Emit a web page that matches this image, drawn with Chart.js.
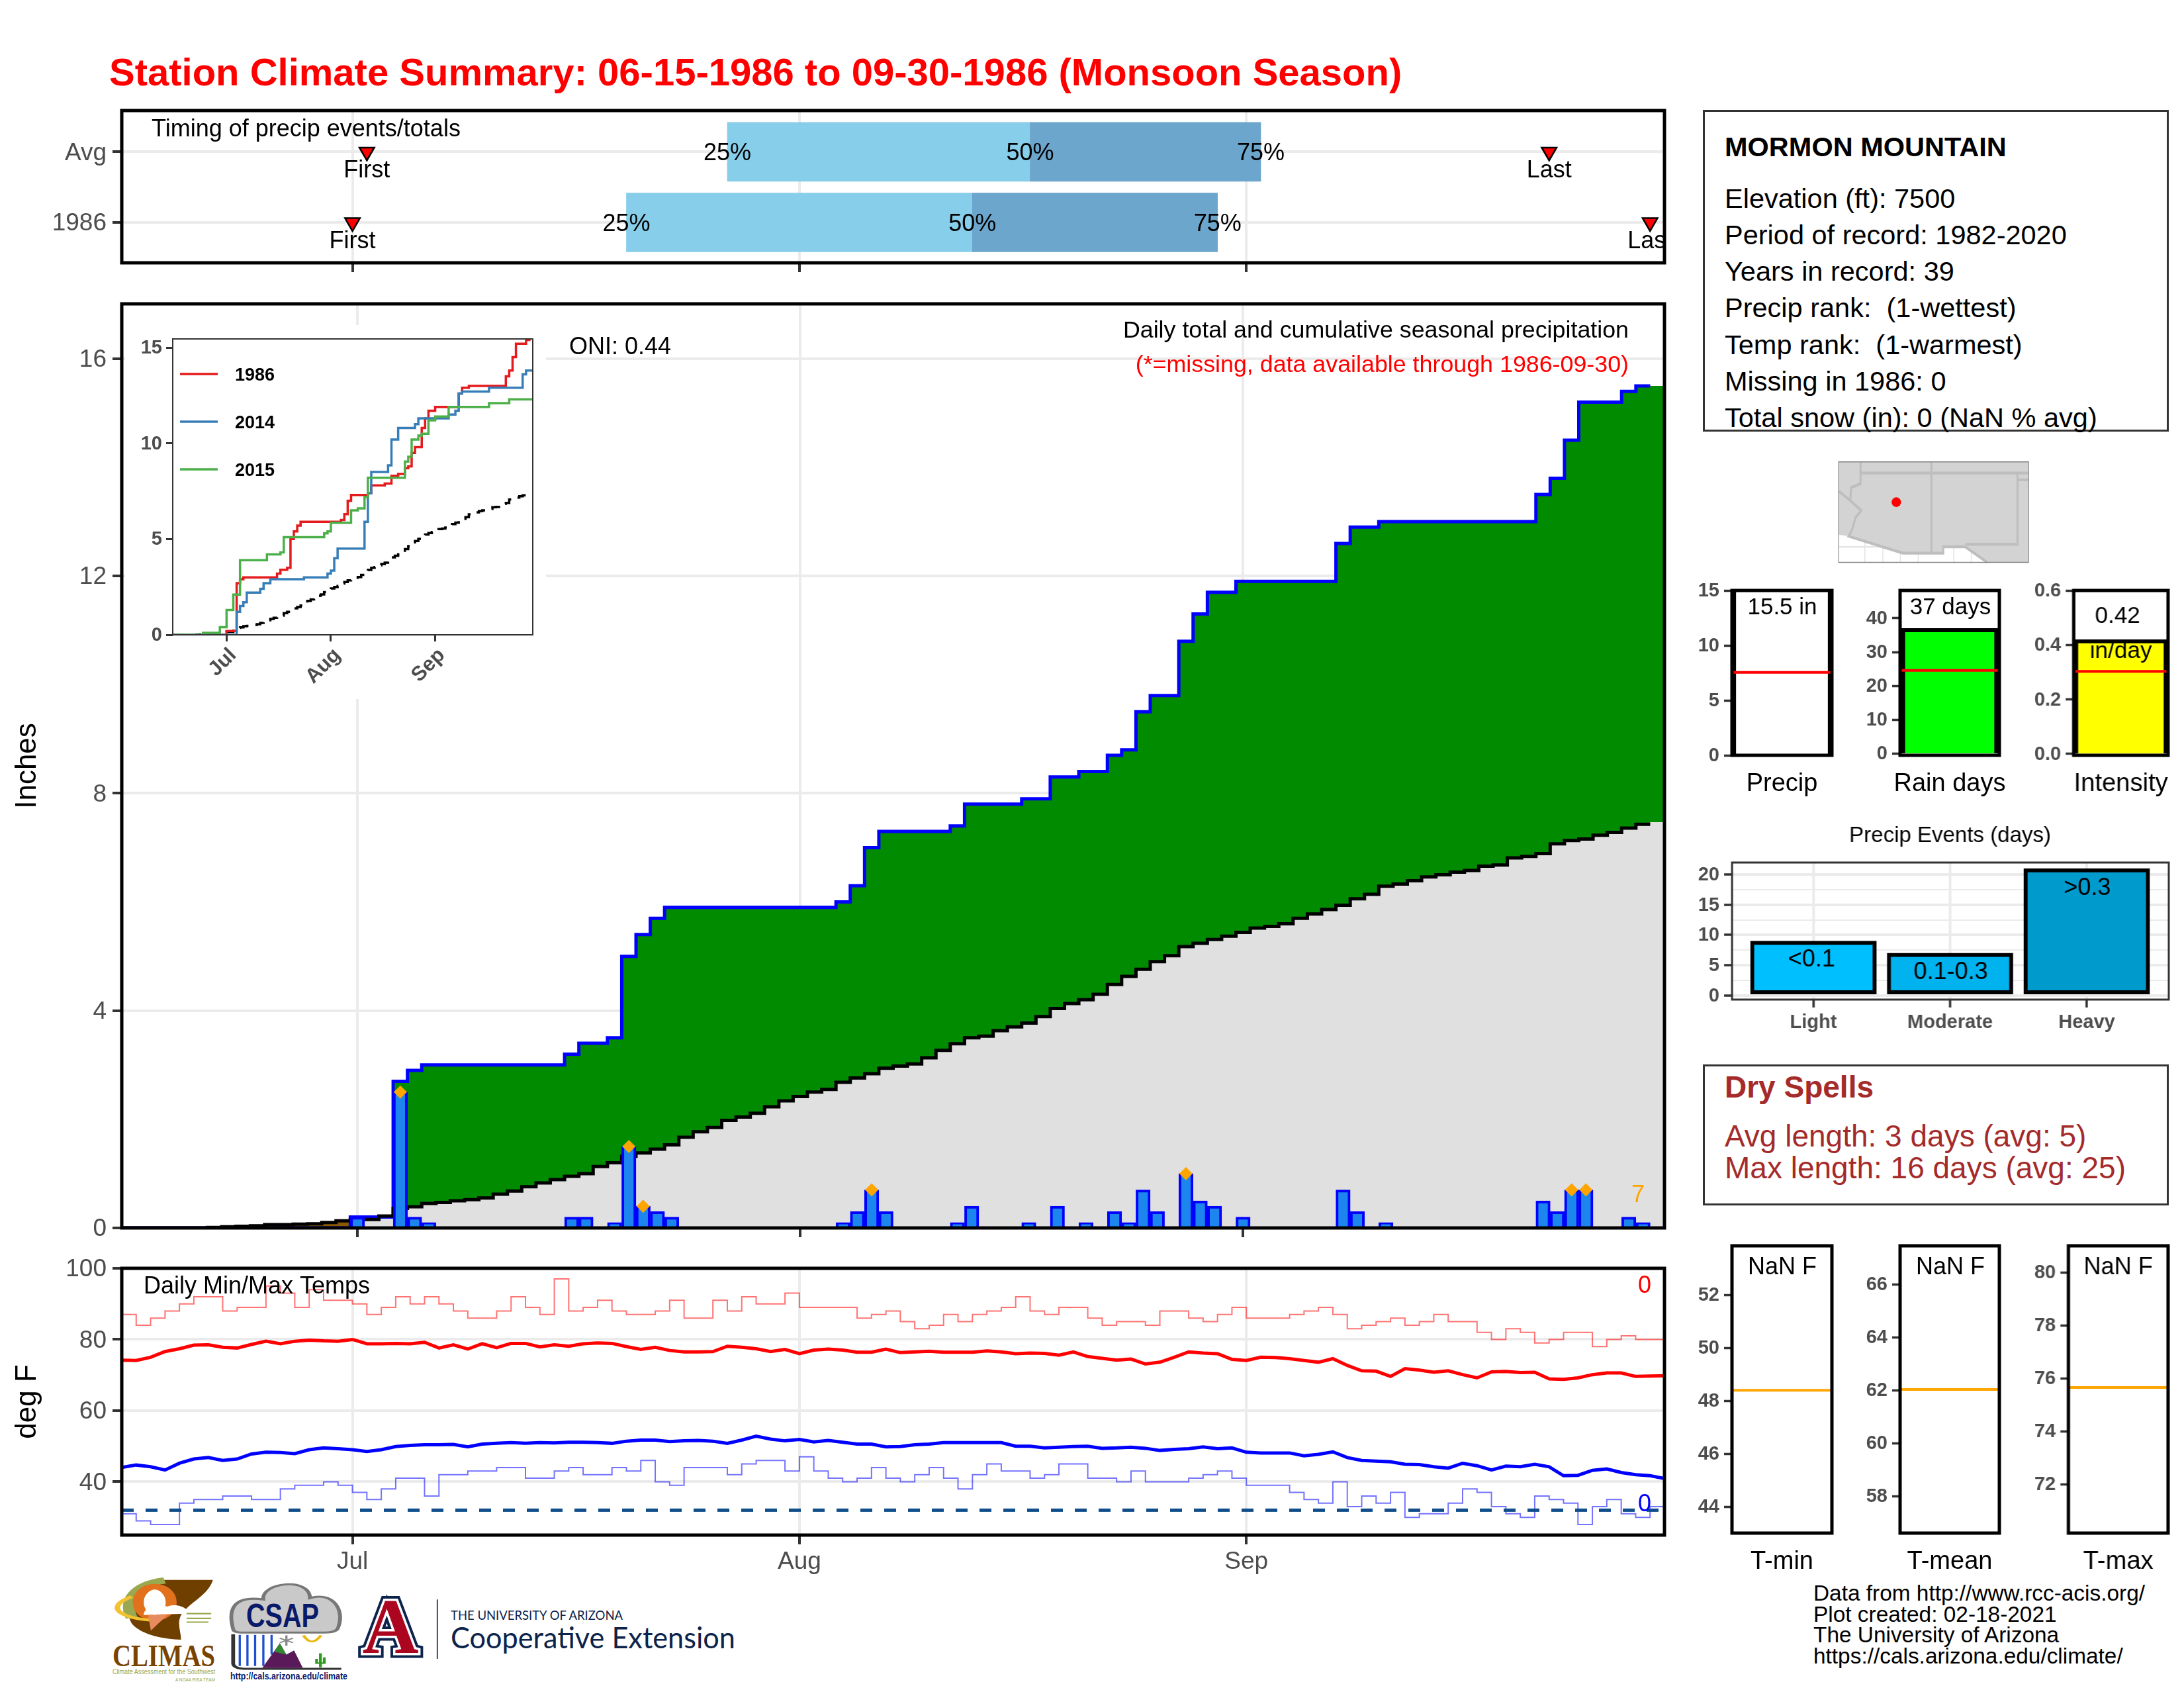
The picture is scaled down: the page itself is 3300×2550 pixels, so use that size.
<!DOCTYPE html>
<html><head><meta charset="utf-8">
<script src="https://cdn.jsdelivr.net/npm/chart.js@4"></script>
<style>
html,body{margin:0;padding:0;background:#fff;width:3300px;height:2550px;overflow:hidden;font-family:"Liberation Sans",Arial,sans-serif}
canvas{position:absolute;display:block}
.t{position:absolute;white-space:pre;line-height:1;transform:translateY(-50%)}
.box{position:absolute;border:3px solid #333;box-sizing:border-box;background:#fff}
svg{position:absolute;left:0;top:0}
</style></head><body>
<div class="box" style="left:2573px;top:166px;width:704px;height:486px"></div>
<div class="box" style="left:2573px;top:1608px;width:704px;height:213px"></div>
<svg id="art" width="3300" height="2550" viewBox="0 0 3300 2550">
  <g transform="matrix(.5102,0,0,.7334,2500,100)">
    <rect x="545" y="815" width="563" height="207" fill="#fff"/>
    <g stroke="#e4e4e4" stroke-width="3"><path d="M623 960V1022M676 960V1022M728 960V1022M781 960V1022M886 960V1022M938 960V1022M545 990H1108"/></g>
    <path d="M545 815H1108V1022H985L920 987L855 990V1003H735L575 968L545 965Z" fill="#d3d3d3"/>
    <path d="M610 815V860L582 868L580 895L612 915L595 930L585 955L575 968L735 1003H855V990H920L985 1022M545 875L580 895M610 838H1075V985H920M820 815V1003M1075 838H1108M1075 852H1108" fill="none" stroke="#bebebe" stroke-width="6"/>
    <rect x="545" y="815" width="563" height="207" fill="none" stroke="#7f7f7f" stroke-width="2"/>
    <ellipse cx="716" cy="898" rx="14" ry="10" fill="#f00"/>
  </g>
  <g transform="matrix(.829,0,0,.4273,0,1880)">
    <path d="M295 1186H388C380 1240 345 1265 330 1310C322 1340 330 1370 330 1397C290 1395 255 1375 240 1340C225 1290 240 1220 295 1186Z" fill="#6f3f00"/>
    <path d="M300 1188C245 1200 225 1260 240 1320" fill="none" stroke="#9aa84f" stroke-width="22"/>
    <ellipse cx="282" cy="1265" rx="30" ry="55" fill="#fff" stroke="#e2711d" stroke-width="20"/>
    <path d="M262 1310C262 1280 290 1270 305 1280C325 1265 345 1290 345 1305Z" fill="#fff"/>
    <path d="M240 1245C190 1280 215 1325 290 1330" fill="none" stroke="#f2c230" stroke-width="10"/>
    <path d="M270 1310L305 1310L275 1365Z" fill="#e88b60"/>
    <path d="M340 1305H385M340 1322H385M340 1335H380" stroke="#9aa84f" stroke-width="5" fill="none"/>
    <path d="M425 1360C415 1290 425 1240 480 1255C475 1195 565 1175 565 1250C610 1225 630 1300 615 1360Q610 1372 590 1372H445Q425 1372 425 1360Z" fill="#c9c9c9" stroke="#777" stroke-width="7"/>
    <path d="M437 1380V1490M451 1380V1490M465 1380V1490M480 1380V1490M495 1380V1450" stroke="#1f4fd0" stroke-width="4"/>
    <path d="M425 1378V1480Q425 1500 450 1500H622" fill="none" stroke="#333" stroke-width="7"/>
    <path d="M478 1497L510 1410L522 1450L536 1435L552 1497Z" fill="#5a1a5a"/>
    <path d="M510 1410L522 1450L500 1440Z" fill="#2f8a2f"/>
    <path d="M522 1382V1418M510 1392L534 1408M534 1392L510 1408" stroke="#888" stroke-width="4"/>
    <path d="M553 1382Q568 1425 585 1382" fill="none" stroke="#e8b90f" stroke-width="6"/>
    <path d="M584 1445V1495M577 1465V1480H591V1460" fill="none" stroke="#2e9a1e" stroke-width="5"/>
    <path d="M797 1255V1465" stroke="#0c234b" stroke-width="2"/>
  </g>
  <text x="170" y="2517" font-family="Liberation Serif" font-size="46" font-weight="700" fill="#7a4300" textLength="155" lengthAdjust="spacingAndGlyphs">CLIMAS</text>
  <text x="170" y="2529" font-family="Liberation Sans" font-size="11" fill="#9aa84f" textLength="155" lengthAdjust="spacingAndGlyphs">Climate Assessment for the Southwest</text>
  <text x="265" y="2540" font-family="Liberation Sans" font-size="8" fill="#9aa84f" textLength="60" lengthAdjust="spacingAndGlyphs">A NOAA RISA TEAM</text>
  <text x="372" y="2458" font-family="Liberation Sans" font-size="50" font-weight="700" fill="#0a1a6b" textLength="110" lengthAdjust="spacingAndGlyphs">CSAP</text>
  <text x="348" y="2537" font-family="Liberation Sans" font-size="14" font-weight="700" fill="#0a1a6b" textLength="177" lengthAdjust="spacingAndGlyphs">http://cals.arizona.edu/climate</text>
  <g font-family="Liberation Serif" font-size="118" font-weight="700" text-anchor="middle">
    <text x="590" y="2497" fill="none" stroke="#0c234b" stroke-width="15">A</text>
    <text x="590" y="2497" fill="none" stroke="#fff" stroke-width="7">A</text>
    <text x="590" y="2497" fill="#ab0520">A</text>
  </g>
  <text x="681" y="2447" font-family="Lato" font-size="20" fill="#0c234b" textLength="260" lengthAdjust="spacingAndGlyphs">THE UNIVERSITY OF ARIZONA</text>
  <text x="681" y="2490" font-family="Lato" font-size="44" fill="#0c234b" textLength="430" lengthAdjust="spacingAndGlyphs">Cooperative Extension</text>
</svg>
<script>
const FONT='"Liberation Sans", Arial, sans-serif';
/* ---------- data (index 0 = Jun 15, 16 = Jul 1, 47 = Aug 1, 78 = Sep 1, 107 = Sep 30) ---------- */
const monthTicks=[16,47,78];
const monthLabels=['Jul','Aug','Sep'];
const timingRows=['Avg','1986'];
const q25to50=[[42,63],[35,59]];
const q50to75=[[63,79],[59,76]];
const firstDay=[17,16];
const lastDay=[99,106];
const dailyPrecip=[0,0,0,0,0,0,0,0,0,0,0,0,0,0,0,0,
 .2,0,0,2.5,.2,.1,0,0,0,0,0,0,0,0,0,.2,.2,0,.1,1.5,.4,.3,.2,0,0,0,0,0,0,0,0,
 0,0,0,.1,.3,.7,.3,0,0,0,0,.1,.4,0,0,0,.1,0,.4,0,.1,0,.3,.1,.7,.3,0,1,.5,.4,0,
 .2,0,0,0,0,0,0,.7,.3,0,.1,0,0,0,0,0,0,0,0,0,0,.5,.3,.7,.7,0,0,.2,.1,0];
const cumPrecip=[0,0,0,0,0,0,0,0,0,0,0,0,0,0,0,0,
 .2,.2,.2,2.7,2.9,3,3,3,3,3,3,3,3,3,3,3.2,3.4,3.4,3.5,5,5.4,5.7,5.9,5.9,5.9,5.9,5.9,5.9,5.9,5.9,5.9,
 5.9,5.9,5.9,6,6.3,7,7.3,7.3,7.3,7.3,7.3,7.4,7.8,7.8,7.8,7.8,7.9,7.9,8.3,8.3,8.4,8.4,8.7,8.8,9.5,9.8,9.8,10.8,11.3,11.7,11.7,
 11.9,11.9,11.9,11.9,11.9,11.9,11.9,12.6,12.9,12.9,13,13,13,13,13,13,13,13,13,13,13,13.5,13.8,14.5,15.2,15.2,15.2,15.4,15.5,15.5];
const avgPrecip=[0,0,0,0,0,0,.01,.02,.03,.04,.06,.06,.07,.075,.1,.13,
 .155,.155,.22,.36,.39,.45,.47,.5,.52,.55,.62,.68,.76,.83,.89,.95,1,1.13,1.2,1.32,1.38,1.45,1.53,1.67,1.77,1.85,1.98,2.04,2.11,2.23,2.34,
 2.42,2.5,2.55,2.68,2.76,2.84,2.94,2.98,3.02,3.13,3.27,3.39,3.5,3.53,3.63,3.7,3.77,3.89,4.04,4.13,4.2,4.3,4.48,4.63,4.76,4.9,5.01,5.18,5.24,5.31,5.37,
 5.44,5.52,5.55,5.6,5.7,5.78,5.86,5.94,6.06,6.14,6.29,6.33,6.39,6.46,6.5,6.55,6.58,6.66,6.68,6.81,6.84,6.89,7.07,7.13,7.16,7.23,7.28,7.36,7.43,7.47];
const extremeDays=[19,35,36,52,74,101,102];
const precip2014=[0,0,0,0,0,0,0,0,0,0,0,0,0,0,0,0,0,0,0,1.2,1.5,1.7,2.2,2.2,2.2,2.2,2.4,2.7,2.7,2.9,2.9,2.9,2.9,2.9,2.9,2.9,2.9,2.9,2.9,3,3,3,3,3,3,3,3.2,3.35,4,4.5,4.5,4.5,4.5,4.5,4.5,4.5,4.5,5.9,7.4,8.5,8.5,8.5,8.5,8.5,8.85,10.2,10.2,10.8,10.8,10.8,10.8,10.8,11,11.3,11.3,11.3,11.3,11.3,11.3,11.3,11.3,11.3,11.5,11.5,11.7,12.6,12.7,12.7,12.7,12.7,12.7,12.7,12.7,12.7,12.9,12.9,12.9,12.9,12.9,12.9,12.9,12.9,12.9,12.9,13.6,13.8,13.8,13.8];
const precip2015=[0,0,0,0,0,0,0,0,0,.1,.1,.1,.1,.1,.4,.4,1.3,1.3,2.1,2.1,3.9,3.9,3.9,3.9,3.9,3.9,3.9,3.9,4.2,4.2,4.2,4.2,4.3,5.1,5.1,5.1,5.1,5.1,5.1,5.1,5.1,5.1,5.1,5.1,5.1,5.3,5.4,5.85,5.85,5.85,5.85,5.85,5.85,6.5,6.5,6.6,6.6,7.2,8.2,8.2,8.2,8.2,8.2,8.2,8.2,8.2,8.2,8.2,8.2,9.05,9.3,10.2,10.2,10.4,10.5,10.5,11.2,11.2,11.4,11.4,11.4,11.4,11.9,11.9,11.9,11.9,11.9,11.9,11.9,11.9,11.9,11.9,11.9,11.9,12.1,12.1,12.1,12.1,12.1,12.1,12.3,12.3,12.3,12.3,12.3,12.3,12.3,12.3];
const dailyMax=[87,84,86,88,90,92,92,88,89,89,95,93,89,94,91,91,
 90,87,89,92,90,92,90,88,86,86,88,92,89,87,97,88,89,91,88,87,87,88,91,86,86,91,88,92,90,90,93,
 89,89,89,89,86,87,88,85,83,84,87,85,87,88,89,92,88,87,89,89,86,84,85,85,84,88,88,86,85,87,89,
 86,86,86,87,88,89,87,83,84,85,86,84,85,87,85,85,82,80,83,82,79,80,82,82,78,80,81,80,80,80];
const dailyMin=[31,29,28,28,34,35,35,36,36,35,35,38,39,39,40,39,
 37,35,38,41,41,36,42,42,43,43,44,44,41,41,43,44,42,42,44,43,46,40,39,44,44,44,42,45,46,46,43,
 47,43,41,40,41,44,41,40,42,44,41,38,42,45,43,43,41,42,45,45,41,41,40,43,40,40,40,41,42,43,41,
 39,39,39,37,35,34,40,33,36,34,37,30,31,31,34,38,37,33,31,30,36,35,34,28,33,35,31,30,33,33];
const normalMax=[74.2,74.1,75,76.6,77.4,78.4,78.5,77.8,77.6,78.6,79.5,78.8,79.5,79.8,79.6,79.5,
 80,78.8,78.8,78.9,78.8,79.2,77.6,78.5,77.3,78.8,77.7,78.9,78.9,77.9,78.5,78.1,78.8,79,78.9,78,77.2,77.8,76.9,76.5,76.5,76.6,78.1,77.8,77.4,76.6,77.2,
 76,77,77.3,77,76.4,76.4,77.3,76.3,76.5,76.7,76.4,76.4,76.4,76.8,76.5,76,76.2,76.1,75.6,76.5,75.2,74.7,74.2,74.5,73.1,73.6,75,76.5,76.2,76,74.4,
 74.1,75,74.9,74.6,74.1,73.6,74.6,72.7,71.2,71.1,69.6,71.8,71.4,70.8,71.2,70.1,69.2,70.9,71,70.7,70.8,68.9,68.8,69.2,70.1,70.6,70.6,69.6,69.7,69.8];
const normalMin=[44,44.7,44.2,43.3,45.2,46.4,46.8,46,46.4,47.8,48.3,48.2,47.9,49,49.5,49.3,
 49,48.5,49,49.9,50.2,50.4,50.4,50.5,49.8,50.6,50.8,51,50.8,51,50.9,51.1,51.1,51,50.8,51.4,51.7,51.7,51.3,51.5,51.6,51.4,50.8,51.7,52.8,52,51.5,
 51.9,51.2,51.6,51.1,50.6,50.6,49.8,49.9,50.4,50.6,51,51,51,51,51,50,50,49.5,49.7,49.9,50,49.4,49.5,49.7,49.4,48.8,49.1,49.3,49.8,49.3,49.5,
 48.3,48.1,48.1,48.1,47.3,47.7,48.4,46.8,46,45.8,45.6,44.9,44.8,44.2,43.8,45.2,44.5,43.3,44.4,44.2,44.9,44.2,41.7,41.8,43.2,43.6,42.6,42,41.7,40.9];
const freezeLine=[32,32];
const eventNames=['Light','Moderate','Heavy'];
const eventDays=[9,7,21];
const eventText=['<0.1','0.1-0.3','>0.3'];
const eventColors=['#00BFFF','#00B2EE','#009ACD'];
const seasonValues=[15.5,37,0.42];
const seasonAverages=[7.55,24.6,0.303];
const tempAverages=[48.4,62.03,75.65];
const stationLines=['Elevation (ft): 7500','Period of record: 1982-2020','Years in record: 39','Precip rank:  (1-wettest)','Temp rank:  (1-warmest)','Missing in 1986: 0','Total snow (in): 0 (NaN % avg)'];
const creditLines=['Data from http://www.rcc-acis.org/','Plot created: 02-18-2021','The University of Arizona','https://cals.arizona.edu/climate/'];

/* ---------- helpers ---------- */
const GRID='#EBEBEB', AXIS='#4D4D4D', TICKC='#333333';
function dom(text,x,y,size,opt={}){
  const d=document.createElement('div');d.className='t';d.textContent=text;
  d.style.left=x+'px';d.style.top=y+'px';d.style.fontSize=size+'px';
  d.style.color=opt.color||'#000';d.style.fontWeight=opt.bold?'700':'400';
  document.body.appendChild(d);return d;
}
const framePlugin={id:'frame',afterDatasetsDraw(c,a,o){
  const {left,top,width,height}=c.chartArea,x=c.ctx;
  x.save();x.lineWidth=o.w||5;x.strokeStyle=o.color||'#000';x.strokeRect(left,top,width,height);x.restore();
}};
const notesPlugin={id:'notes',afterDraw(c,a,o){
  const x=c.ctx,A=c.chartArea;
  (o.items||[]).forEach(it=>{
    x.save();
    if(it.clip){x.beginPath();x.rect(A.left,A.top,A.width,A.height);x.clip();}
    x.font=(it.bold?'700 ':'')+it.size+'px '+FONT;
    x.fillStyle=it.color||'#000';x.textAlign=it.align||'center';x.textBaseline='middle';
    const px=it.xv!==undefined?c.scales.x.getPixelForValue(it.xv):it.x-o.ox;
    const py=it.yv!==undefined?c.scales.y.getPixelForValue(it.yv)+(it.dy||0):it.y-o.oy;
    x.fillText(it.text,px,py);
    x.restore();
  });
}};
const bgPlugin={id:'bg',beforeDraw(c,a,o){if(o.color){c.ctx.save();c.ctx.fillStyle=o.color;c.ctx.fillRect(0,0,c.width,c.height);c.ctx.restore();}}};
function panel(r,m,cfg,frame,notes,bg,extra){
  const cv=document.createElement('canvas');
  const ox=r.l-m.l,oy=r.t-m.t,W=r.r-r.l+m.l+m.r,H=r.b-r.t+m.t+m.b;
  cv.width=W;cv.height=H;cv.style.left=ox+'px';cv.style.top=oy+'px';cv.style.width=W+'px';cv.style.height=H+'px';
  document.body.appendChild(cv);
  const o=cfg.options=cfg.options||{};
  o.responsive=false;o.animation=false;o.devicePixelRatio=1;
  o.layout={autoPadding:false,padding:{left:0,top:m.t,right:m.r,bottom:0}};
  o.plugins=Object.assign({legend:{display:false},tooltip:{enabled:false},title:{display:false},
    frame,notes:{items:notes||[],ox,oy},bg:{color:bg}},o.plugins||{});
  o.scales.x.afterFit=s=>{s.height=m.b;s.paddingLeft=0;s.paddingRight=0};
  o.scales.y.afterFit=s=>{s.width=m.l;s.paddingTop=0;s.paddingBottom=0};
  o.scales.x.offset=false;o.scales.y.offset=false;
  o.scales.x.grid.offset=false;o.scales.y.grid.offset=false;
  cfg.plugins=[bgPlugin,framePlugin,notesPlugin].concat(extra||[]);
  return new Chart(cv,cfg);
}
const fixedTicks=v=>s=>{s.ticks=v.map(value=>({value}))};
const xy=(ys,from=0)=>ys.map((y,i)=>({x:i+from,y}));
const withEdges=ys=>[{x:-.5,y:ys[0]},...xy(ys),{x:ys.length-.5,y:ys[ys.length-1]}];
const lineTo29=ys=>[{x:-.5,y:ys[0]},...xy(ys.slice(0,107)),{x:106.5,y:ys[106]}];
const monthLabel=v=>monthLabels[monthTicks.indexOf(v)]||'';
function yAxis(min,max,vals,extra={}){
  return Object.assign({type:'linear',min,max,afterBuildTicks:fixedTicks(vals),border:{display:false},
    grid:{color:GRID,lineWidth:4,tickColor:TICKC,tickWidth:4,tickLength:14},
    ticks:{autoSkip:false,color:AXIS,font:{family:FONT,size:37},padding:9,labelOffset:2}},extra);
}
function xMonths(min,max,showLabels){
  return {type:'linear',min,max,afterBuildTicks:fixedTicks(monthTicks),border:{display:false},
    grid:{color:GRID,lineWidth:4,tickColor:TICKC,tickWidth:4,tickLength:14},
    ticks:{display:showLabels,autoSkip:false,maxRotation:0,minRotation:0,color:AXIS,font:{family:FONT,size:37},padding:5,callback:monthLabel}};
}

/* ---------- title and text panels ---------- */
dom('Station Climate Summary: 06-15-1986 to 09-30-1986 (Monsoon Season)',165,109,58,{color:'#FF0000',bold:true});
dom('MORMON MOUNTAIN',2606,222,41.5,{bold:true});
stationLines.forEach((s,i)=>dom(s,2606,299.5+55.3*i,41.5));
dom('Dry Spells',2606,1642,46,{color:'#A52A2A',bold:true});
dom('Avg length: 3 days (avg: 5)',2606,1716,46,{color:'#A52A2A'});
dom('Max length: 16 days (avg: 25)',2606,1764,46,{color:'#A52A2A'});
creditLines.forEach((s,i)=>dom(s,2740,2407+31.6*i,33.4));

/* ---------- timing strip ---------- */
const timingNotes=[
 {text:'Timing of precip events/totals',x:229,y:196,size:36,align:'left'}];
timingRows.forEach((_,i)=>{
  timingNotes.push({text:'First',xv:firstDay[i],yv:i,dy:29,size:36,clip:true});
  timingNotes.push({text:'Last',xv:lastDay[i],yv:i,dy:29,size:36,clip:true});
  timingNotes.push({text:'25%',xv:q25to50[i][0],yv:i,dy:3,size:36,clip:true});
  timingNotes.push({text:'50%',xv:q50to75[i][0],yv:i,dy:3,size:36,clip:true});
  timingNotes.push({text:'75%',xv:q50to75[i][1],yv:i,dy:3,size:36,clip:true});
});
panel({l:184,t:167,r:2515,b:397},{l:184,t:30,r:30,b:40},{
  type:'bar',
  data:{datasets:[
    {type:'bar',order:3,data:timingRows.map((_,i)=>({x:q25to50[i],y:i})),backgroundColor:'#87CEEB',barThickness:89,grouped:false},
    {type:'bar',order:2,data:timingRows.map((_,i)=>({x:q50to75[i],y:i})),backgroundColor:'#6CA6CD',barThickness:89,grouped:false},
    {type:'scatter',order:1,data:timingRows.map((_,i)=>({x:firstDay[i],y:i})),pointStyle:'triangle',rotation:180,radius:13,backgroundColor:'#FF0000',borderColor:'#000',borderWidth:2.5},
    {type:'scatter',order:0,data:timingRows.map((_,i)=>({x:lastDay[i],y:i})),pointStyle:'triangle',rotation:180,radius:13,backgroundColor:'#FF0000',borderColor:'#000',borderWidth:2.5}
  ]},
  options:{indexAxis:'y',scales:{
    x:xMonths(0,107,false),
    y:yAxis(-.585,1.572,[0,1],{reverse:true,ticks:{autoSkip:false,color:AXIS,font:{family:FONT,size:37},padding:9,labelOffset:2,callback:v=>timingRows[v]}})
  }}
},{w:5},timingNotes);

/* ---------- main precipitation panel ---------- */
const lineBase={type:'line',pointRadius:0,tension:0,stepped:'middle'};
panel({l:184,t:459,r:2515,b:1855},{l:184,t:30,r:30,b:40},{
  data:{datasets:[
    {...lineBase,order:10,data:withEdges(avgPrecip),borderWidth:0,borderColor:'transparent',fill:{target:'origin',above:'#E0E0E0',below:'#E0E0E0'}},
    {...lineBase,order:9,data:withEdges(cumPrecip),borderWidth:0,borderColor:'transparent',fill:{target:0,above:'#008B00',below:'#8B5A00'}},
    {...lineBase,order:8,data:lineTo29(cumPrecip),borderColor:'#0000FF',borderWidth:5,fill:false},
    {...lineBase,order:7,data:lineTo29(avgPrecip),borderColor:'#000',borderWidth:5,fill:false},
    {type:'bar',order:6,data:dailyPrecip.map((y,x)=>({x,y})).filter(p=>p.y>0),backgroundColor:'#1C86EE',borderColor:'#0000FF',borderWidth:4,barPercentage:1,categoryPercentage:1},
    {type:'scatter',order:5,data:extremeDays.map(x=>({x,y:dailyPrecip[x]})),pointStyle:'rectRot',radius:10,backgroundColor:'#FFA500',borderWidth:0}
  ]},
  options:{scales:{
    x:xMonths(-.5,107.5,false),
    y:yAxis(0,17.01,[0,4,8,12,16],{title:{display:true,text:'Inches',color:'#000',font:{family:FONT,size:44},padding:{top:15,bottom:0}}})
  }}
},{w:5},[
 {text:'ONI: 0.44',x:860,y:525,size:36,align:'left'},
 {text:'Daily total and cumulative seasonal precipitation',x:2461,y:500,size:35.8,align:'right'},
 {text:'(*=missing, data available through 1986-09-30)',x:2461,y:552,size:35.8,align:'right',color:'#FF0000'},
 {text:'7',x:2475,y:1806,size:36,color:'#FFA500'}
]);

/* ---------- inset ---------- */
const insetLine={type:'line',pointRadius:0,stepped:true,tension:0,fill:false,borderWidth:3.5};
const insetSeries=[['1986','#E41A1C'],['2014','#377EB8'],['2015','#4DAF4A']];
const legendKeys={id:'legendKeys',afterDraw(c){
  const x=c.ctx;x.save();x.lineWidth=3.5;
  insetSeries.forEach((s,i)=>{x.strokeStyle=s[1];x.beginPath();x.moveTo(272-189,565+72*i-491);x.lineTo(329-189,565+72*i-491);x.stroke();});
  x.restore();
}};
panel({l:261,t:512,r:805,b:959},{l:72,t:21,r:20,b:97},{
  data:{datasets:[
    {...insetLine,order:4,data:xy(avgPrecip.slice(0,106)),borderColor:'#000',borderDash:[16,12]},
    {...insetLine,order:3,data:xy(cumPrecip),borderColor:insetSeries[0][1]},
    {...insetLine,order:2,data:xy(precip2014),borderColor:insetSeries[1][1]},
    {...insetLine,order:1,data:xy(precip2015),borderColor:insetSeries[2][1]}
  ]},
  options:{scales:{
    x:{type:'linear',min:0,max:107,afterBuildTicks:fixedTicks(monthTicks),border:{display:false},
       grid:{drawOnChartArea:false,tickColor:TICKC,tickWidth:3,tickLength:10},
       ticks:{autoSkip:false,minRotation:45,maxRotation:45,labelOffset:10,color:AXIS,font:{family:FONT,size:31,weight:'700'},padding:3,callback:monthLabel}},
    y:{type:'linear',min:0,max:15.45,afterBuildTicks:fixedTicks([0,5,10,15]),border:{display:false},
       grid:{drawOnChartArea:false,tickColor:TICKC,tickWidth:3,tickLength:10},
       ticks:{autoSkip:false,color:AXIS,font:{family:FONT,size:29,weight:'700'},padding:6,labelOffset:1}}
  }}
},{w:2,color:'#333'},[
  ...insetSeries.map((s,i)=>({text:s[0],x:355,y:568+72*i,size:27,bold:true,align:'left'}))
],'#fff',[legendKeys]);

/* ---------- temperature panel ---------- */
panel({l:184,t:1915.5,r:2515,b:2319},{l:184,t:30,r:30,b:70},{
  data:{datasets:[
    {type:'line',order:5,data:xy(dailyMax),stepped:true,pointRadius:0,borderColor:'rgba(255,0,0,.55)',borderWidth:2,fill:false},
    {type:'line',order:4,data:xy(dailyMin),stepped:true,pointRadius:0,borderColor:'rgba(0,0,255,.55)',borderWidth:2,fill:false},
    {type:'line',order:3,data:xy(normalMax),pointRadius:0,tension:0,borderColor:'#FF0000',borderWidth:5,fill:false},
    {type:'line',order:2,data:xy(normalMin),pointRadius:0,tension:0,borderColor:'#0000FF',borderWidth:5,fill:false},
    {type:'line',order:1,data:[{x:0,y:freezeLine[0]},{x:107,y:freezeLine[1]}],pointRadius:0,borderColor:'#104E8B',borderWidth:5,borderDash:[18,18],fill:false}
  ]},
  options:{scales:{
    x:xMonths(0,107,true),
    y:yAxis(25,100,[40,60,80,100],{title:{display:true,text:'deg F',color:'#000',font:{family:FONT,size:44},padding:{top:15,bottom:0}}})
  }}
},{w:5},[
 {text:'Daily Min/Max Temps',x:217,y:1944,size:36,align:'left'},
 {text:'0',x:2485,y:1943,size:36,color:'#FF0000'},
 {text:'0',x:2485,y:2273,size:36,color:'#0000FF'}
]);

/* ---------- small season panels ---------- */
function miniX(label){
  return {type:'linear',min:-.5,max:.5,afterBuildTicks:fixedTicks([0]),border:{display:false},
    grid:{display:true,drawOnChartArea:false,drawTicks:false,tickLength:0},
    ticks:{autoSkip:false,maxRotation:0,color:'#000',font:{family:FONT,size:38},padding:21,callback:()=>label}};
}
function miniY(min,max,vals,fmt){
  return {type:'linear',min,max,afterBuildTicks:fixedTicks(vals),border:{display:false},
    grid:{drawOnChartArea:false,tickColor:TICKC,tickWidth:3.5,tickLength:12},
    ticks:{autoSkip:false,color:AXIS,font:{family:FONT,size:29,weight:'700'},padding:7,labelOffset:1,callback:fmt||(v=>v)}};
}
const flat=(y,c)=>({type:'line',order:1,data:[{x:-.5,y},{x:.5,y}],pointRadius:0,borderColor:c,borderWidth:4,fill:false});
const bar1=(y,c,w)=>({type:'bar',order:2,data:[{x:0,y}],backgroundColor:c,borderColor:'#000',borderWidth:6,barThickness:w});
panel({l:2617,t:892,r:2768,b:1141},{l:80,t:24,r:16,b:70},{
  data:{datasets:[bar1(seasonValues[0],'#fff',150),flat(seasonAverages[0],'#FF0000')]},
  options:{scales:{x:miniX('Precip'),y:miniY(0,15,[0,5,10,15])}}
},{w:5},[{text:'15.5 in',x:2693,y:918,size:35}]);
panel({l:2871,t:892,r:3021,b:1141},{l:84,t:24,r:30,b:70},{
  data:{datasets:[bar1(seasonValues[1],'#00FF00',146),flat(seasonAverages[1],'#FF0000')]},
  options:{scales:{x:miniX('Rain days'),y:miniY(-.5,48.2,[0,10,20,30,40])}}
},{w:5},[{text:'37 days',x:2947,y:918,size:35}]);
panel({l:3133,t:892,r:3275.5,b:1141},{l:88,t:24,r:20,b:70},{
  data:{datasets:[bar1(seasonValues[2],'#FFFF00',140),flat(seasonAverages[2],'#FF0000')]},
  options:{scales:{x:miniX('Intensity'),y:miniY(-.005,.6,[0,.2,.4,.6],v=>v.toFixed(1))}}
},{w:5},[{text:'0.42',x:3199,y:931,size:35},{text:'in/day',x:3204,y:984,size:35}]);

/* ---------- precip events ---------- */
panel({l:2617,t:1303,r:3276.5,b:1510},{l:80,t:60,r:4,b:60},{
  data:{datasets:[{type:'bar',data:eventDays.map((y,x)=>({x,y})),backgroundColor:eventColors,borderColor:'#000',borderWidth:6,borderSkipped:false,barThickness:190}]},
  options:{scales:{
    x:{type:'linear',min:-.595,max:2.6,afterBuildTicks:fixedTicks([0,1,2]),border:{display:false},
       grid:{color:GRID,lineWidth:4,tickColor:TICKC,tickWidth:3.5,tickLength:12},
       ticks:{autoSkip:false,maxRotation:0,color:AXIS,font:{family:FONT,size:29,weight:'700'},padding:6,callback:v=>eventNames[v]}},
    y:{type:'linear',min:-.7,max:22,afterBuildTicks:fixedTicks([0,2.5,5,7.5,10,12.5,15,17.5,20]),border:{display:false},
       grid:{color:GRID,lineWidth:c=>c.tick.value%5===0?4:2,tickColor:c=>c.tick.value%5===0?TICKC:'transparent',tickWidth:3.5,tickLength:12},
       ticks:{autoSkip:false,color:AXIS,font:{family:FONT,size:29,weight:'700'},padding:7,labelOffset:1,callback:v=>v%5===0?v:''}}
  }}
},{w:3,color:'#333'},[
 {text:'Precip Events (days)',x:2946,y:1263,size:33},
 {text:eventText[0],x:2737,y:1450,size:36},
 {text:eventText[1],x:2947,y:1469,size:36},
 {text:eventText[2],x:3153,y:1342,size:36}
]);

/* ---------- temperature summaries ---------- */
const tPanel=(l,r,m,min,max,ticks,avg,label,tx)=>panel({l,t:1881.5,r,b:2316},{l:m,t:24,r:16,b:70},{
  data:{datasets:[flat(avg,'#FFA500')]},
  options:{scales:{x:miniX(label),y:miniY(min,max,ticks)}}
},{w:5},[{text:'NaN F',x:tx,y:1915,size:36}]);
tPanel(2617,2768,80,43,53.86,[44,46,48,50,52],tempAverages[0],'T-min',2693);
tPanel(2871,3021,84,56.6,67.46,[58,60,62,64,66],tempAverages[1],'T-mean',2947);
tPanel(3125,3275.5,84,70.15,81,[72,74,76,78,80],tempAverages[2],'T-max',3200);
</script>
</body></html>
